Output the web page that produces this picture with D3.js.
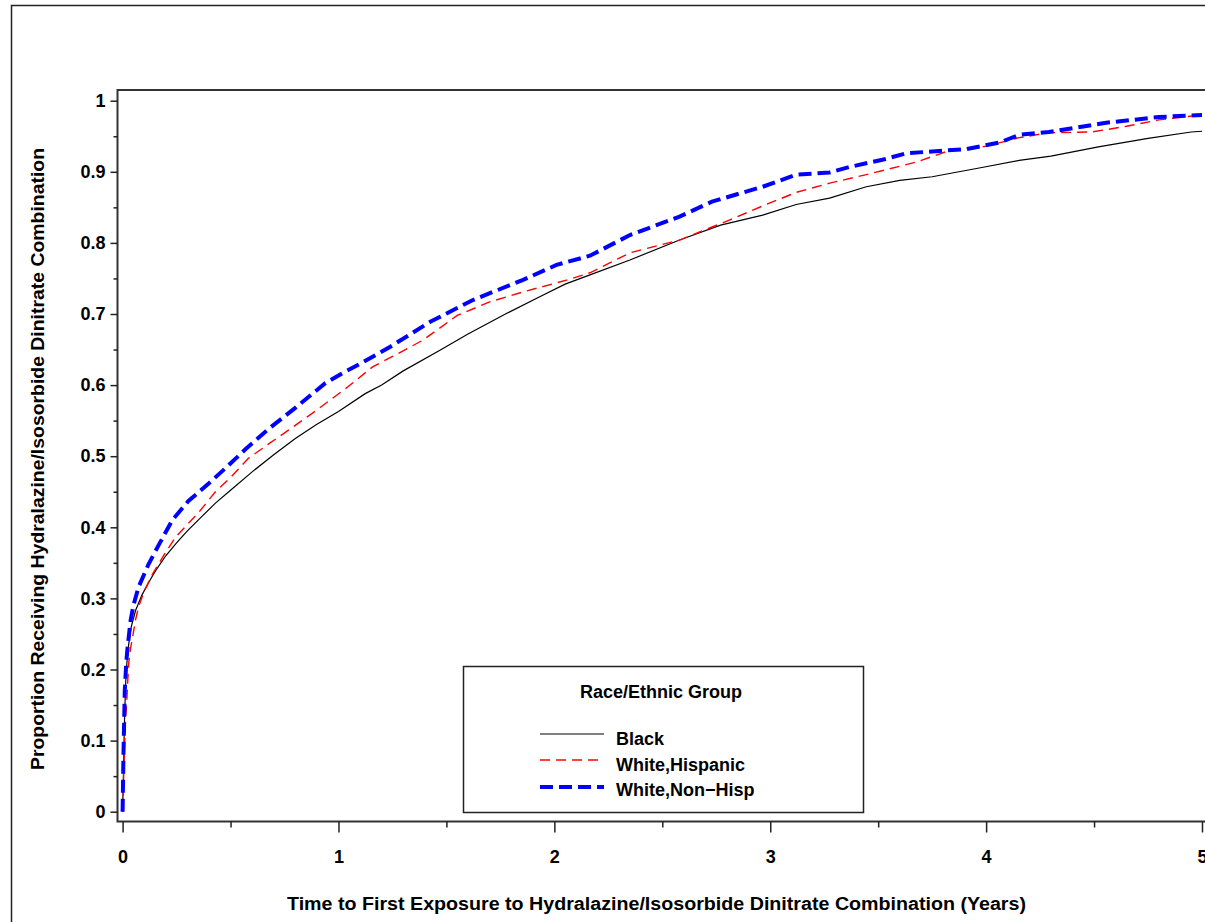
<!DOCTYPE html>
<html>
<head>
<meta charset="utf-8">
<script src="https://cdn.jsdelivr.net/npm/d3@7"></script>
<style>
  body { margin: 0; background: #fff; }
  svg text { font-family: Arial, "Liberation Sans", sans-serif; font-weight: bold; fill: #000; }
</style>
</head>
<body>
<svg id="chart" width="1205" height="922"></svg>
<script>
// cumulative proportion receiving the drug: [years, proportion]
const black = [
  [0, 0], [0.003, 0.04], [0.008, 0.12], [0.014, 0.18], [0.02, 0.21], [0.028, 0.235],
  [0.04, 0.26], [0.06, 0.283], [0.09, 0.305], [0.12, 0.322], [0.153, 0.339], [0.2, 0.36],
  [0.25, 0.378], [0.3, 0.395], [0.35, 0.41], [0.43, 0.434], [0.5, 0.452], [0.6, 0.478],
  [0.7, 0.502], [0.8, 0.525], [0.9, 0.545], [1.0, 0.563], [1.124, 0.588], [1.2, 0.6],
  [1.3, 0.62], [1.47, 0.649], [1.6, 0.672], [1.78, 0.701], [1.93, 0.724], [2.05, 0.742],
  [2.165, 0.755], [2.35, 0.776], [2.58, 0.804], [2.77, 0.825], [2.965, 0.839], [3.12, 0.854],
  [3.275, 0.863], [3.445, 0.879], [3.6, 0.888], [3.75, 0.893], [3.98, 0.906], [4.153, 0.916],
  [4.3, 0.922], [4.52, 0.935], [4.75, 0.947], [4.95, 0.956], [5.0, 0.957]
];
const whiteHispanic = [
  [0, 0], [0.005, 0.05], [0.012, 0.12], [0.02, 0.16], [0.028, 0.208], [0.037, 0.23],
  [0.046, 0.245], [0.06, 0.27], [0.074, 0.288], [0.1, 0.31], [0.14, 0.335], [0.19, 0.36],
  [0.245, 0.386], [0.3, 0.404], [0.35, 0.42], [0.43, 0.45], [0.5, 0.47], [0.583, 0.497],
  [0.68, 0.518], [0.77, 0.537], [0.9, 0.565], [1.045, 0.598], [1.16, 0.626], [1.28, 0.645],
  [1.39, 0.663], [1.55, 0.698], [1.7, 0.717], [1.855, 0.731], [2.06, 0.748], [2.165, 0.758],
  [2.35, 0.786], [2.58, 0.804], [2.81, 0.832], [2.965, 0.852], [3.12, 0.871], [3.275, 0.884],
  [3.445, 0.896], [3.68, 0.914], [3.83, 0.93], [4.0, 0.936], [4.153, 0.948], [4.29, 0.955],
  [4.49, 0.956], [4.65, 0.964], [4.8, 0.973], [5.0, 0.98]
];
const whiteNonHisp = [
  [0, 0], [0.004, 0.08], [0.01, 0.17], [0.017, 0.21], [0.023, 0.231], [0.037, 0.269],
  [0.05, 0.29], [0.074, 0.316], [0.12, 0.348], [0.167, 0.375], [0.23, 0.41], [0.305, 0.437],
  [0.4, 0.462], [0.476, 0.483], [0.57, 0.51], [0.675, 0.538], [0.8, 0.568], [0.94, 0.603],
  [1.008, 0.615], [1.1, 0.63], [1.24, 0.654], [1.425, 0.689], [1.625, 0.72], [1.855, 0.748],
  [2.01, 0.769], [2.165, 0.782], [2.35, 0.811], [2.58, 0.837], [2.73, 0.858], [2.965, 0.879],
  [3.12, 0.896], [3.275, 0.899], [3.37, 0.907], [3.52, 0.917], [3.63, 0.926], [3.91, 0.932],
  [4.06, 0.941], [4.153, 0.952], [4.29, 0.956], [4.556, 0.969], [4.8, 0.977], [5.0, 0.98]
];

const groupNames = ['Black', 'White,Hispanic', 'White,Non\u2212Hisp'];
const xTicks = [0, 1, 2, 3, 4, 5];
const xTickLabels = ['0', '1', '2', '3', '4', '5'];
const xMinorTicks = [0.5, 1.5, 2.5, 3.5, 4.5];
const yTicks = [0, 0.1, 0.2, 0.3, 0.4, 0.5, 0.6, 0.7, 0.8, 0.9, 1];
const yTickLabels = ['0', '0.1', '0.2', '0.3', '0.4', '0.5', '0.6', '0.7', '0.8', '0.9', '1'];
const yMinorTicks = [0.05, 0.15, 0.25, 0.35, 0.45, 0.55, 0.65, 0.75, 0.85, 0.95];

const svg = d3.select('#chart');

const frame = { left: 117.5, top: 90, bottom: 821.5, right: 1230 };

const x = d3.scaleLinear().domain([0, 5]).range([122.6, 1202]);
const y = d3.scaleLinear().domain([0, 1]).range([811.7, 100.7]);

// outer page border
svg.append('rect')
    .attr('x', 11.5).attr('y', 5.5)
    .attr('width', 1300).attr('height', 1000)
    .attr('fill', 'none').attr('stroke', '#222').attr('stroke-width', 1.5);

// plot frame
svg.append('rect')
    .attr('x', frame.left).attr('y', frame.top)
    .attr('width', frame.right - frame.left).attr('height', frame.bottom - frame.top)
    .attr('fill', 'none').attr('stroke', '#333').attr('stroke-width', 2);

// y axis
const yAxis = svg.append('g')
    .attr('transform', `translate(${frame.left},0)`)
    .call(d3.axisLeft(y).tickValues(yTicks)
        .tickFormat((d, i) => yTickLabels[i])
        .tickSize(7).tickPadding(5).tickSizeOuter(0));
yAxis.select('.domain').remove();
yAxis.selectAll('line').attr('stroke', '#222').attr('stroke-width', 1.5);
yAxis.selectAll('text').attr('font-size', '18px').attr('fill', '#000');

const yMinor = svg.append('g')
    .attr('transform', `translate(${frame.left},0)`)
    .call(d3.axisLeft(y).tickValues(yMinorTicks).tickFormat('').tickSize(4).tickSizeOuter(0));
yMinor.select('.domain').remove();
yMinor.selectAll('line').attr('stroke', '#222').attr('stroke-width', 1.5);

// x axis
const xAxis = svg.append('g')
    .attr('transform', `translate(0,${frame.bottom})`)
    .call(d3.axisBottom(x).tickValues(xTicks)
        .tickFormat((d, i) => xTickLabels[i])
        .tickSize(11).tickPadding(18).tickSizeOuter(0));
xAxis.select('.domain').remove();
xAxis.selectAll('line').attr('stroke', '#222').attr('stroke-width', 1.5);
xAxis.selectAll('text').attr('font-size', '18px').attr('fill', '#000');

const xMinor = svg.append('g')
    .attr('transform', `translate(0,${frame.bottom})`)
    .call(d3.axisBottom(x).tickValues(xMinorTicks).tickFormat('').tickSize(6).tickSizeOuter(0));
xMinor.select('.domain').remove();
xMinor.selectAll('line').attr('stroke', '#222').attr('stroke-width', 1.5);

// axis titles
svg.append('text')
    .attr('x', 656.5).attr('y', 910)
    .attr('text-anchor', 'middle')
    .attr('font-size', '18px')
    .attr('textLength', 739).attr('lengthAdjust', 'spacingAndGlyphs')
    .text('Time to First Exposure to Hydralazine/Isosorbide Dinitrate Combination (Years)');

svg.append('text')
    .attr('transform', 'translate(44,459) rotate(-90)')
    .attr('text-anchor', 'middle')
    .attr('font-size', '18px')
    .attr('textLength', 622).attr('lengthAdjust', 'spacingAndGlyphs')
    .text('Proportion Receiving Hydralazine/Isosorbide Dinitrate Combination');

// curves
const styles = [
    { color: '#000', width: 1.2, dash: null },
    { color: '#ff0000', width: 1.4, dash: '10,6' },
    { color: '#0000ff', width: 4, dash: '13,6' }
];
const series = [black, whiteHispanic, whiteNonHisp];

svg.append('clipPath').attr('id', 'plot-clip')
  .append('rect')
    .attr('x', frame.left).attr('y', frame.top)
    .attr('width', frame.right - frame.left).attr('height', frame.bottom - frame.top);

const line = d3.line()
    .x(d => x(d[0]))
    .y(d => y(d[1]))
    .curve(d3.curveLinear);

svg.append('g')
    .attr('clip-path', 'url(#plot-clip)')
  .selectAll('path')
    .data(series)
  .join('path')
    .attr('d', line)
    .attr('fill', 'none')
    .attr('stroke', (d, i) => styles[i].color)
    .attr('stroke-width', (d, i) => styles[i].width)
    .attr('stroke-dasharray', (d, i) => styles[i].dash);

// legend
const legend = svg.append('g');
legend.append('rect')
    .attr('x', 463.5).attr('y', 666.5)
    .attr('width', 400).attr('height', 146)
    .attr('fill', '#fff').attr('stroke', '#222').attr('stroke-width', 1.5);

legend.append('text')
    .attr('x', 661).attr('y', 698)
    .attr('text-anchor', 'middle')
    .attr('font-size', '18px')
    .text('Race/Ethnic Group');

const itemY = [734, 760, 787];
const textY = [745, 771, 796];

const item = legend.selectAll('.legend-item')
    .data(groupNames)
  .join('g')
    .attr('class', 'legend-item');

item.append('line')
    .attr('x1', 540).attr('x2', 604)
    .attr('y1', (d, i) => itemY[i]).attr('y2', (d, i) => itemY[i])
    .attr('stroke', (d, i) => styles[i].color)
    .attr('stroke-width', (d, i) => styles[i].width)
    .attr('stroke-dasharray', (d, i) => styles[i].dash);

item.append('text')
    .attr('x', 616)
    .attr('y', (d, i) => textY[i])
    .attr('font-size', '18px')
    .text(d => d);
</script>
</body>
</html>
